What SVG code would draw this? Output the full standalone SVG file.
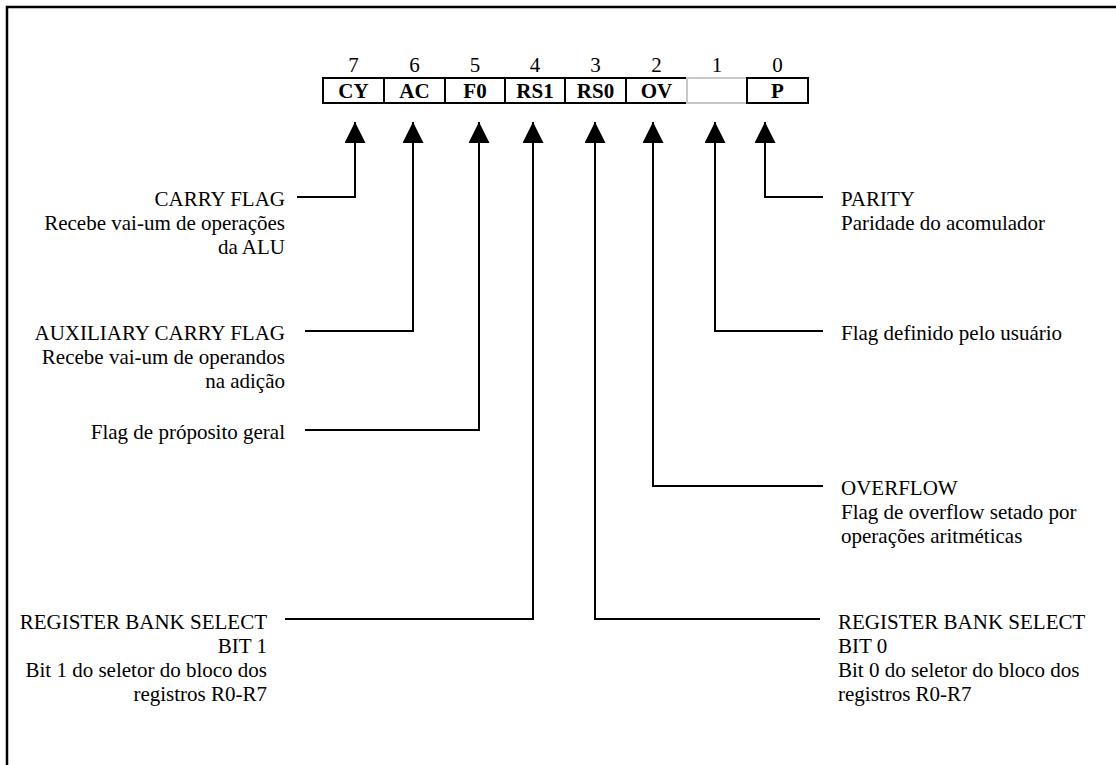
<svg xmlns="http://www.w3.org/2000/svg" width="1116" height="765" viewBox="0 0 1116 765">
<style>
text{font-family:"Times New Roman","Liberation Serif",Tinos,"DejaVu Serif",serif;font-size:21px;fill:#000}
.b{font-weight:bold;text-anchor:middle}
.n{text-anchor:middle}
.r{text-anchor:end}
.cell{fill:#fff;stroke:#000;stroke-width:2}
.ghost{fill:#fff;stroke:#c8c8c8;stroke-width:2}
.conn{fill:none;stroke:#000;stroke-width:2}
</style>
<defs>
<marker id="arrow" markerUnits="userSpaceOnUse" viewBox="0 0 21 21" markerWidth="21" markerHeight="21" refX="21" refY="10.5" orient="auto-start-reverse">
<path d="M0,0 L21,10.5 L0,21 Z" fill="#000"/>
</marker>
</defs>
<rect width="1116" height="765" fill="#fff"/>
<path d="M7,765 V7 H1116" fill="none" stroke="#000" stroke-width="2.5"/>

<g id="register">
<rect class="cell" x="323" y="78" width="61" height="25"/>
<rect class="cell" x="384" y="78" width="61" height="25"/>
<rect class="cell" x="445" y="78" width="60" height="25"/>
<rect class="cell" x="505" y="78" width="60" height="25"/>
<rect class="cell" x="565" y="78" width="61" height="25"/>
<rect class="cell" x="626" y="78" width="61" height="25"/>
<rect class="ghost" x="687" y="78" width="60" height="25"/>
<rect class="cell" x="747" y="78" width="61" height="25"/>
<text class="n" x="353.5" y="72">7</text>
<text class="n" x="414.5" y="72">6</text>
<text class="n" x="475" y="72">5</text>
<text class="n" x="535" y="72">4</text>
<text class="n" x="595.5" y="72">3</text>
<text class="n" x="656.5" y="72">2</text>
<text class="n" x="717" y="72">1</text>
<text class="n" x="777.5" y="72">0</text>
<text class="b" x="353.5" y="98">CY</text>
<text class="b" x="414.5" y="98">AC</text>
<text class="b" x="475" y="98">F0</text>
<text class="b" x="535" y="98">RS1</text>
<text class="b" x="595.5" y="98">RS0</text>
<text class="b" x="656.5" y="98">OV</text>
<text class="b" x="777.5" y="98">P</text>
</g>

<g id="connectors">
<path class="conn" marker-start="url(#arrow)" d="M355,122 V197 H297"/>
<path class="conn" marker-start="url(#arrow)" d="M413,122 V331 H305"/>
<path class="conn" marker-start="url(#arrow)" d="M479,122 V430 H305"/>
<path class="conn" marker-start="url(#arrow)" d="M533,122 V619 H285"/>
<path class="conn" marker-start="url(#arrow)" d="M595,122 V619 H820"/>
<path class="conn" marker-start="url(#arrow)" d="M653,122 V486 H823"/>
<path class="conn" marker-start="url(#arrow)" d="M715,122 V331 H823"/>
<path class="conn" marker-start="url(#arrow)" d="M765,122 V197 H823"/>
</g>

<g id="cy">
<text class="r" x="285" y="206">CARRY FLAG</text>
<text class="r" x="285" y="230">Recebe vai-um de operações</text>
<text class="r" x="285" y="254">da ALU</text>
</g>
<g id="ac">
<text class="r" x="285" y="340">AUXILIARY CARRY FLAG</text>
<text class="r" x="285" y="364">Recebe vai-um de operandos</text>
<text class="r" x="285" y="388">na adição</text>
</g>
<g id="f0">
<text class="r" x="285" y="439">Flag de próposito geral</text>
</g>
<g id="rs1">
<text class="r" x="267" y="629">REGISTER BANK SELECT</text>
<text class="r" x="267" y="653">BIT 1</text>
<text class="r" x="267" y="677">Bit 1 do seletor do bloco dos</text>
<text class="r" x="267" y="701">registros R0-R7</text>
</g>
<g id="p">
<text x="841" y="206">PARITY</text>
<text x="841" y="230">Paridade do acomulador</text>
</g>
<g id="bit1">
<text x="841" y="340">Flag definido pelo usuário</text>
</g>
<g id="ov">
<text x="841" y="495">OVERFLOW</text>
<text x="841" y="519">Flag de overflow setado por</text>
<text x="841" y="543">operações aritméticas</text>
</g>
<g id="rs0">
<text x="838" y="629">REGISTER BANK SELECT</text>
<text x="838" y="653">BIT 0</text>
<text x="838" y="677">Bit 0 do seletor do bloco dos</text>
<text x="838" y="701">registros R0-R7</text>
</g>
</svg>
